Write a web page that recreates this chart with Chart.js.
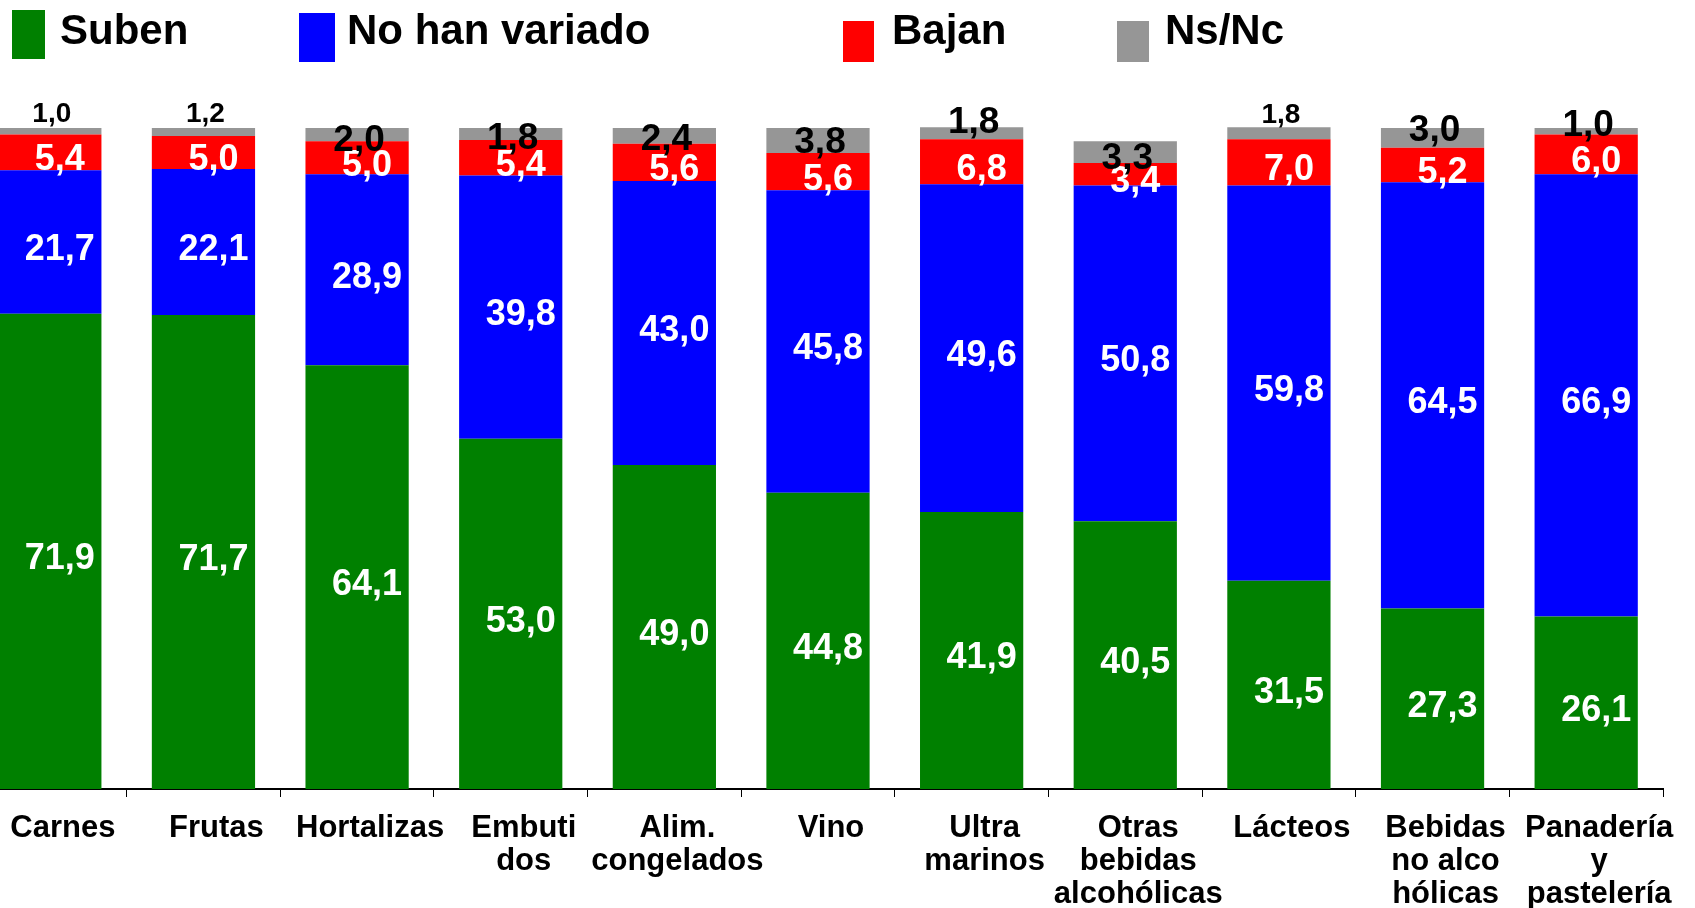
<!DOCTYPE html>
<html>
<head>
<meta charset="utf-8">
<script src="https://cdn.jsdelivr.net/npm/chart.js@4.4.0/dist/chart.umd.min.js"></script>
<style>
  html, body { margin: 0; padding: 0; background: #fff; overflow: hidden; }
  #wrap { position: absolute; left: -27px; top: 0; width: 1722px; height: 908px; }
</style>
</head>
<body>
<div id="wrap"><canvas id="chart"></canvas></div>
<script>
// data (percent)
const categories = ['Carnes', 'Frutas', 'Hortalizas', ['Embuti', 'dos'], ['Alim.', 'congelados'], 'Vino',
  ['Ultra', 'marinos'], ['Otras', 'bebidas', 'alcohólicas'], 'Lácteos', ['Bebidas', 'no alco', 'hólicas'],
  ['Panadería', 'y', 'pastelería']];
const suben = [71.9, 71.7, 64.1, 53.0, 49.0, 44.8, 41.9, 40.5, 31.5, 27.3, 26.1];
const noHanVariado = [21.7, 22.1, 28.9, 39.8, 43.0, 45.8, 49.6, 50.8, 59.8, 64.5, 66.9];
const bajan = [5.4, 5.0, 5.0, 5.4, 5.6, 5.6, 6.8, 3.4, 7.0, 5.2, 6.0];
const nsNc = [1.0, 1.2, 2.0, 1.8, 2.4, 3.8, 1.8, 3.3, 1.8, 3.0, 1.0];

const seriesNames = ['Suben', 'No han variado', 'Bajan', 'Ns/Nc'];
const colors = ['#008000', '#0000ff', '#ff0000', '#969696'];

// label styling for the Ns/Nc values (offset from stack top, small font or not)
const nsDy = [-14, -14, 13, 11, 12, 15, -5, 18, -12, 3, -2];
const nsSmall = [true, true, false, false, false, false, false, false, true, false, false];

const FONT = '"Liberation Sans", Arial, sans-serif';
const SHIFT = 27; // canvas is moved left by this much
Chart.defaults.font.family = FONT;

const fmt = v => v.toFixed(1).replace('.', ',');

const legendPlugin = {
  id: 'manualLegend',
  afterDraw(chart) {
    const ctx = chart.ctx;
    const items = [
      { box: [12, 10, 33, 49], tx: 60 },
      { box: [299, 13, 36, 49], tx: 347 },
      { box: [843, 21, 31, 41], tx: 892 },
      { box: [1117, 21, 32, 41], tx: 1165 }
    ];
    ctx.save();
    ctx.font = 'bold 42px ' + FONT;
    ctx.textBaseline = 'alphabetic';
    ctx.textAlign = 'left';
    items.forEach((it, i) => {
      ctx.fillStyle = colors[i];
      ctx.fillRect(it.box[0] + SHIFT, it.box[1], it.box[2], it.box[3]);
      ctx.fillStyle = '#000';
      ctx.fillText(seriesNames[i], it.tx + SHIFT, 44);
    });
    ctx.restore();
  }
};

const labelPlugin = {
  id: 'segLabels',
  afterDatasetsDraw(chart) {
    const ctx = chart.ctx;
    ctx.save();
    ctx.textAlign = 'center';
    ctx.textBaseline = 'middle';
    ctx.fillStyle = '#fff';
    ctx.font = 'bold 36px ' + FONT;
    [0, 1, 2].forEach(di => {
      chart.getDatasetMeta(di).data.forEach((bar, i) => {
        const v = chart.data.datasets[di].data[i];
        ctx.fillText(fmt(v), bar.x + 10, (bar.y + bar.base) / 2 + 8);
      });
    });
    ctx.fillStyle = '#000';
    chart.getDatasetMeta(3).data.forEach((bar, i) => {
      ctx.font = (nsSmall[i] ? 'bold 28px ' : 'bold 37px ') + FONT;
      ctx.fillText(fmt(nsNc[i]), bar.x + 2, bar.y + nsDy[i]);
    });
    ctx.restore();
  }
};

new Chart(document.getElementById('chart'), {
  type: 'bar',
  data: {
    labels: categories,
    datasets: [suben, noHanVariado, bajan, nsNc].map((d, i) => ({
      label: seriesNames[i],
      data: d,
      backgroundColor: colors[i],
      borderWidth: 0,
      categoryPercentage: 1,
      barPercentage: 0.672,
      clip: false
    }))
  },
  options: {
    responsive: true,
    maintainAspectRatio: false,
    animation: false,
    devicePixelRatio: 1,
    layout: { padding: { top: 128, right: 32, left: 0, bottom: 0 } },
    plugins: {
      legend: { display: false },
      tooltip: { enabled: false }
    },
    scales: {
      x: {
        stacked: true,
        grid: { display: true, drawOnChartArea: false, drawTicks: true, tickLength: 8, color: '#000', lineWidth: 1 },
        border: { display: true, color: '#000', width: 2 },
        ticks: {
          autoSkip: false,
          maxRotation: 0,
          minRotation: 0,
          padding: 15,
          labelOffset: 13,
          color: '#000',
          font: { size: 31, weight: 'bold', lineHeight: '33px' }
        },
        afterFit: s => { s.height = 119; }
      },
      y: {
        stacked: true,
        display: false,
        min: 0,
        max: 100
      }
    }
  },
  plugins: [labelPlugin, legendPlugin]
});
</script>
</body>
</html>
